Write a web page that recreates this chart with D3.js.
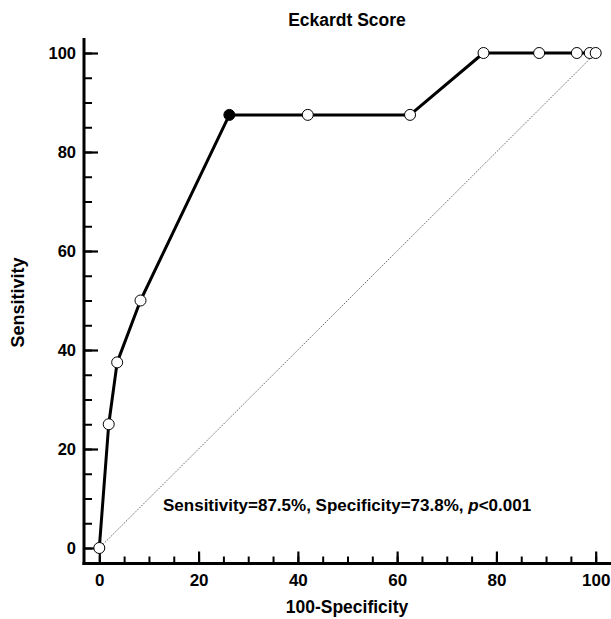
<!DOCTYPE html>
<html>
<head>
<meta charset="utf-8">
<script src="https://cdn.jsdelivr.net/npm/d3@7.9.0/dist/d3.min.js"></script>
<style>
  body { margin: 0; background: #fff; }
  svg text { font-family: Arial, "Liberation Sans", sans-serif; font-weight: bold; fill: #000; }
</style>
</head>
<body>
<svg id="chart" width="611" height="619"></svg>
<script>
// ROC points
const specComplement = [0, 1.9, 3.6, 8.3, 26.2, 42.0, 62.6, 77.4, 88.6, 96.2, 98.8, 100];
const sensitivity    = [0, 25, 37.5, 50, 87.5, 87.5, 87.5, 100, 100, 100, 100, 100];
const criterionIndex = 4; // filled dot = chosen cut-off
const majorTicks = [0, 20, 40, 60, 80, 100];
const minorTicks = d3.range(0, 101, 5);

const svg = d3.select('#chart');

const x = d3.scaleLinear().domain([0, 100]).range([99.3, 595.7]);
const y = d3.scaleLinear().domain([0, 100]).range([548, 53]);

const axisX = 84;    // y axis line position
const axisY = 563.5; // x axis line position
const font = 'Arial, "Liberation Sans", sans-serif';

// diagonal reference line
svg.append('line')
  .attr('x1', x(0)).attr('y1', y(0))
  .attr('x2', x(100)).attr('y2', y(100))
  .attr('stroke', '#444')
  .attr('stroke-width', 0.8)
  .attr('stroke-dasharray', '1.5,1.2');

// minor ticks
svg.append('g')
  .attr('transform', `translate(0,${axisY})`)
  .call(d3.axisBottom(x).tickValues(minorTicks).tickSize(-7).tickFormat(''))
  .call(g => g.select('.domain').remove())
  .call(g => g.selectAll('line').attr('stroke-width', 2));
svg.append('g')
  .attr('transform', `translate(${axisX},0)`)
  .call(d3.axisLeft(y).tickValues(minorTicks).tickSize(-8).tickFormat(''))
  .call(g => g.select('.domain').remove())
  .call(g => g.selectAll('line').attr('stroke-width', 2));

// major ticks + labels
svg.append('g')
  .attr('transform', `translate(0,${axisY})`)
  .call(d3.axisBottom(x).tickValues(majorTicks).tickSize(-12).tickPadding(10.5))
  .call(g => g.select('.domain').remove())
  .call(g => g.selectAll('line').attr('stroke-width', 2.2))
  .call(g => g.selectAll('text').attr('font-size', 17).attr('font-weight', 'bold')
    .attr('font-family', font));
svg.append('g')
  .attr('transform', `translate(${axisX},0)`)
  .call(d3.axisLeft(y).tickValues(majorTicks).tickSize(-14).tickPadding(8))
  .call(g => g.select('.domain').remove())
  .call(g => g.selectAll('line').attr('stroke-width', 2.2))
  .call(g => g.selectAll('text').attr('font-size', 16.5).attr('font-weight', 'bold')
    .attr('font-family', font));

// axis lines
svg.append('line')
  .attr('x1', axisX).attr('x2', axisX).attr('y1', 38).attr('y2', axisY + 1.5)
  .attr('stroke', '#000').attr('stroke-width', 3);
svg.append('line')
  .attr('x1', axisX - 1.5).attr('x2', 611).attr('y1', axisY).attr('y2', axisY)
  .attr('stroke', '#000').attr('stroke-width', 3);

// ROC curve
const points = specComplement.map((v, i) => ({ fpr: v, sens: sensitivity[i] }));

svg.append('path')
  .datum(points)
  .attr('fill', 'none')
  .attr('stroke', '#000')
  .attr('stroke-width', 3)
  .attr('stroke-linejoin', 'round')
  .attr('d', d3.line().x(d => x(d.fpr)).y(d => y(d.sens)));

svg.selectAll('circle.pt')
  .data(points)
  .join('circle')
  .attr('class', 'pt')
  .attr('cx', d => x(d.fpr))
  .attr('cy', d => y(d.sens))
  .attr('r', 5.5)
  .attr('fill', (_, i) => (i === criterionIndex ? '#000' : '#fff'))
  .attr('stroke', '#000')
  .attr('stroke-width', 1);

// titles
svg.append('text')
  .attr('x', 347).attr('y', 26)
  .attr('text-anchor', 'middle')
  .attr('font-size', 17.5)
  .text('Eckardt Score');

svg.append('text')
  .attr('x', 347).attr('y', 613)
  .attr('text-anchor', 'middle')
  .attr('font-size', 17.5)
  .text('100-Specificity');

svg.append('text')
  .attr('transform', 'translate(24,302.5) rotate(-90)')
  .attr('text-anchor', 'middle')
  .attr('font-size', 18)
  .text('Sensitivity');

// annotation
const note = svg.append('text')
  .attr('x', 163).attr('y', 511)
  .attr('font-size', 17);
note.append('tspan').text('Sensitivity=87.5%, Specificity=73.8%, ');
note.append('tspan').attr('font-style', 'italic').text('p');
note.append('tspan').text('<0.001');
</script>
</body>
</html>
